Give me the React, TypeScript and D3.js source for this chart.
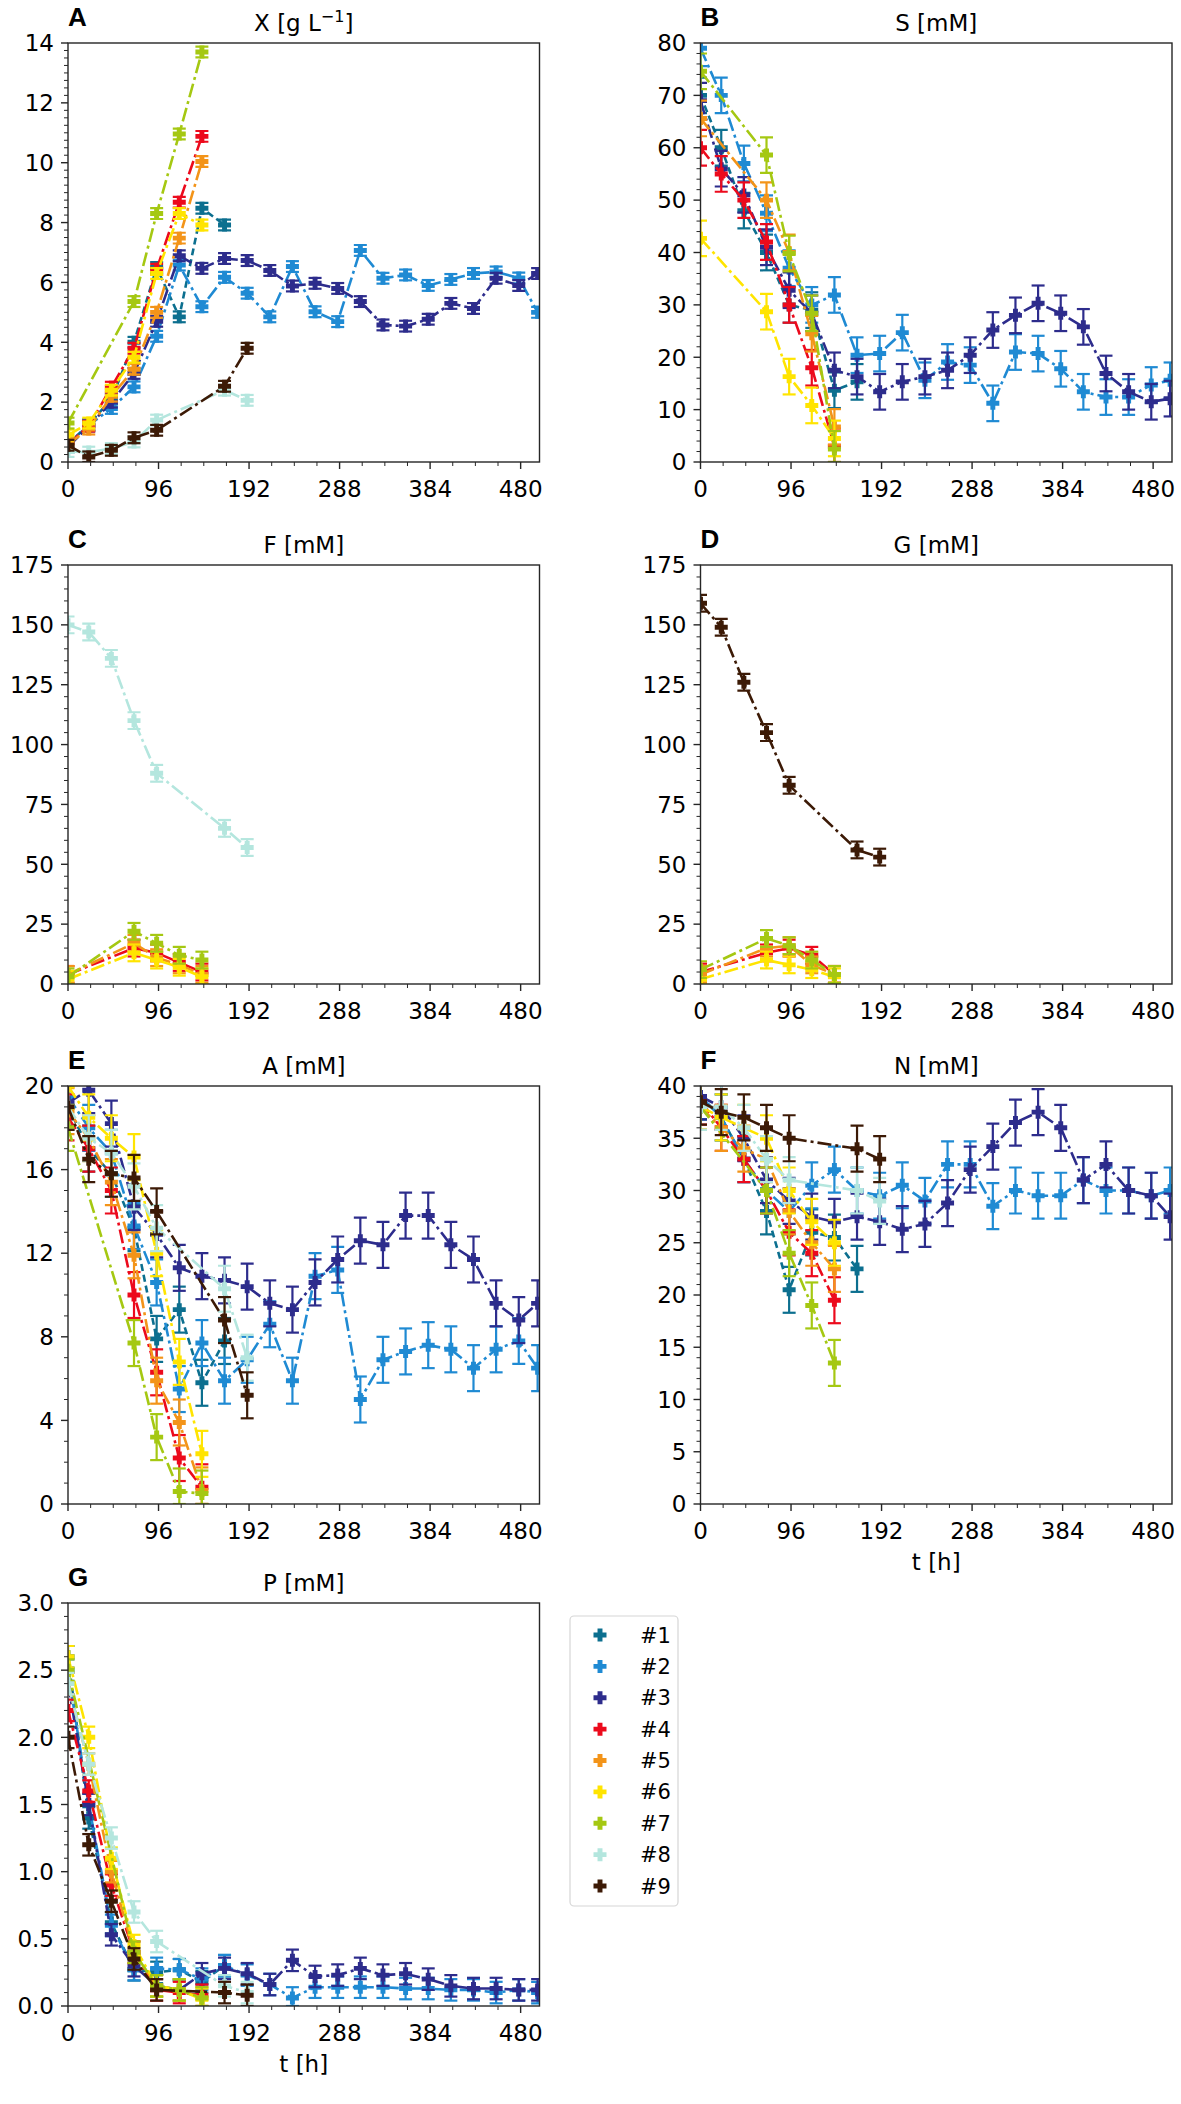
import * as d3 from "d3";

// sampling grid [h]
const T_ALL = [0, 22, 46, 70, 94, 118, 142, 166, 190, 214, 238, 262, 286, 310, 334, 358, 382, 406, 430, 454, 478, 498];
const T_SHORT = [0, 22, 46, 70, 94, 118, 142];
const T_S1 = [0, 22, 46, 70, 94, 118, 142, 166];
const T_S7 = [0, 70, 94, 118, 142];
const T_S89 = [0, 22, 46, 70, 94, 166, 190];

const SERIES = ["#1", "#2", "#3", "#4", "#5", "#6", "#7", "#8", "#9"];
const COLORS = ["#0c6f8f", "#1f8ad3", "#2d2c8c", "#ec0a1c", "#f39419", "#ffe400", "#a5c812", "#b4e6de", "#3c1a06"];
const TIMES = [T_S1, T_ALL, T_ALL, T_SHORT, T_SHORT, T_SHORT, T_S7, T_S89, T_S89];
const DASHES = ["7,4", "14,4,3,4", "14,4,3,4", "14,4,3,4", "14,4,3,4", "14,4,3,4", "14,4,3,4", "14,4,3,4", "14,4,3,4"];

type Row = (number | null)[] | null;

const X_DATA: Row[] = [
  [0.6, 1.25, 2.1, 4.0, 6.5, 4.85, 8.48, 7.92],
  [0.6, 1.23, 1.79, 2.51, 4.2, 6.58, 5.19, 6.17, 5.64, 4.85, 6.53, 5.02, 4.69, 7.07, 6.14, 6.25, 5.9, 6.1, 6.3, 6.35, 6.15, 5.0],
  [0.5, 1.2, 2.0, 2.96, 4.7, 6.89, 6.47, 6.8, 6.73, 6.4, 5.88, 5.97, 5.8, 5.36, 4.58, 4.54, 4.77, 5.3, 5.13, 6.14, 5.9, 6.3],
  [0.6, 1.2, 2.5, 3.8, 6.44, 8.68, 10.88],
  [0.6, 1.1, 2.2, 3.1, 5.0, 7.48, 10.04],
  [0.9, 1.3, 2.4, 3.5, 6.3, 8.3, 7.92],
  [1.3, 5.36, 8.3, 10.96, 13.7],
  [0.35, 0.33, 0.45, 0.67, 1.4, 2.4, 2.06],
  [0.56, 0.17, 0.39, 0.81, 1.06, 2.53, 3.8],
];

const S_DATA: Row[] = [
  [70, 60, 48, 40, 30, 29, 13.7, 15.3],
  [79, 70, 57, 47.5, 37, 30, 31.9, 20.4, 20.7, 24.7, 15.6, 19.1, 18.5, 11.2, 21, 20.7, 17.8, 13.4, 12.4, 12.4, 14.7, 15.6],
  [69, 56, 51, 41, 32.8, 28.4, 17.5, 16.3, 13.4, 15.3, 16.3, 17.5, 20.4, 25.2, 28, 30.3, 28.4, 25.8, 16.9, 13.4, 11.5, 12.1],
  [60, 55, 50, 42, 30, 18, 3],
  [65.6, null, null, 50, 40, 24.5, 6.7],
  [42.7, null, null, 28.7, 16.3, 10.8, 4.5],
  [74.6, 58.6, 39.8, 28.4, 2.5],
  null,
  null,
];

const F_DATA: Row[] = [
  null,
  null,
  null,
  [4, null, null, 15, 13, 9, 5],
  [4, null, null, 17, 11, 8, 4],
  [2, null, null, 13, 10, 7, 3],
  [3, 22, 17, 12, 10],
  [150, 147, 136, 110, 88, 65, 57],
  null,
];

const G_DATA: Row[] = [
  null,
  null,
  null,
  [5, null, null, 13, 15, 12, 4],
  [4, null, null, 15, 16, 8, 4],
  [2, null, null, 10, 8, 6, 3],
  [6, 19, 16, 10, 4],
  null,
  [159, 149, 126, 105, 83, 56, 53],
];

const A_DATA: Row[] = [
  [19, 17, 15.8, 13.2, 7.9, 9.3, 5.8, 7.8],
  [19.5, 18.0, 16.8, 13.3, 10.6, 5.5, 7.7, 5.9, 6.9, 8.6, 5.9, 10.9, 11.2, 5.0, 6.9, 7.3, 7.6, 7.4, 6.5, 7.4, 7.8, 6.5],
  [19.2, 19.8, 18.2, 14.2, 12.9, 11.3, 10.9, 10.7, 10.4, 9.6, 9.3, 10.6, 11.7, 12.6, 12.4, 13.8, 13.8, 12.4, 11.7, 9.6, 8.8, 9.6],
  [18.5, 17, 15, 10.0, 6.3, 2.2, 0.8],
  [18.8, 17.5, 15.4, 11.9, 5.9, 3.9, 0.65],
  [20, 18.5, 17.5, 16.6, 12.0, 6.8, 2.4],
  [18, 7.7, 3.2, 0.6, 0.5],
  [19, 17.5, 16.8, 15.2, 13.2, 10.3, 7.0],
  [19, 16.5, 15.8, 15.6, 14.0, 8.8, 5.2],
];

const N_DATA: Row[] = [
  [39, 37, 33, 28, 20.5, 26, 25.5, 22.5],
  [39, 37, 33, 30, 28, 30.5, 32, 30, 29.5, 30.5, 29, 32.5, 32.5, 28.5, 30, 29.5, 29.5, 31, 30, 30, 29.5, 30],
  [39, 38, 35, 31, 29, 27.5, 27, 27.5, 27, 26.3, 26.8, 28.8, 32, 34.2, 36.5, 37.5, 36, 31, 32.5, 30, 29.5, 27.5],
  [38.5, 36, 33, 30, 26, 24, 19.5],
  [38, 36, 34, 33, 28, 25, 22.5],
  [38, 37, 36, 35, 30, 27, 25],
  [38, 30, 24, 19, 13.5],
  [38, 38, 36, 33, 31, 30, 29],
  [38.5, 37.5, 37, 36, 35, 34, 33],
];

const P_DATA: Row[] = [
  [2.6, 1.4, 0.62, 0.27, 0.25, 0.27, 0.18, 0.3],
  [2.5, 1.5, 0.6, 0.27, 0.28, 0.27, 0.2, 0.3, 0.23, 0.16, 0.06, 0.14, 0.14, 0.14, 0.14, 0.13, 0.13, 0.12, 0.12, 0.1, 0.12, 0.1],
  [2.4, 1.5, 0.53, 0.3, 0.15, 0.12, 0.24, 0.28, 0.24, 0.16, 0.34, 0.22, 0.23, 0.28, 0.23, 0.24, 0.2, 0.15, 0.13, 0.13, 0.12, 0.12],
  [2.2, 1.6, 0.9, 0.4, 0.12, 0.1, 0.08],
  [2.4, 1.8, 1.0, 0.4, 0.15, 0.12, 0.06],
  [2.6, 2.0, 1.1, 0.45, 0.15, 0.12, 0.05],
  [2.5, 0.4, 0.15, 0.12, 0.06],
  [2.4, 1.8, 1.25, 0.7, 0.48, 0.15, 0.1],
  [2.0, 1.2, 0.78, 0.35, 0.12, 0.1, 0.08],
];

// half-width of the error bars per panel
const ERRORS = [0.18, 3.4, 3.5, 3.5, 1.1, 2.2, 0.08];

const X_TICKS = [0, 96, 192, 288, 384, 480];

// layout
const COL_X = [68, 700.5];
const PW = 471.5;
const ROW_Y = [43, 565, 1086, 1603];
const ROW_H = [419, 419, 418, 403];

interface PanelDef {
  letter: string; title: string; sup?: string; data: Row[]; err: number;
  yMax: number; major: number; minor: number; dec: number;
  col: number; row: number; xlabel: boolean;
}

const PANELS: PanelDef[] = [
  { letter: "A", title: "X [g L", sup: "−1", data: X_DATA, err: ERRORS[0], yMax: 14, major: 2, minor: 0.25, dec: 0, col: 0, row: 0, xlabel: false },
  { letter: "B", title: "S [mM]", data: S_DATA, err: ERRORS[1], yMax: 80, major: 10, minor: 2, dec: 0, col: 1, row: 0, xlabel: false },
  { letter: "C", title: "F [mM]", data: F_DATA, err: ERRORS[2], yMax: 175, major: 25, minor: 5, dec: 0, col: 0, row: 1, xlabel: false },
  { letter: "D", title: "G [mM]", data: G_DATA, err: ERRORS[3], yMax: 175, major: 25, minor: 5, dec: 0, col: 1, row: 1, xlabel: false },
  { letter: "E", title: "A [mM]", data: A_DATA, err: ERRORS[4], yMax: 20, major: 4, minor: 1, dec: 0, col: 0, row: 2, xlabel: false },
  { letter: "F", title: "N [mM]", data: N_DATA, err: ERRORS[5], yMax: 40, major: 5, minor: 1, dec: 0, col: 1, row: 2, xlabel: true },
  { letter: "G", title: "P [mM]", data: P_DATA, err: ERRORS[6], yMax: 3, major: 0.5, minor: 0.1, dec: 1, col: 0, row: 3, xlabel: true },
];

const FONT = "DejaVu Sans, sans-serif";
const AX = "#262626";

function plusPath(s: number) {
  const r = s / 2, a = s * 0.19;
  return `M${-a},${-r}H${a}V${-a}H${r}V${a}H${a}V${r}H${-a}V${a}H${-r}V${-a}H${-a}Z`;
}
const MARKER = plusPath(13);

function Panel({ p, idx }: { p: PanelDef; idx: number }) {
  const x0 = COL_X[p.col], y0 = ROW_Y[p.row], h = ROW_H[p.row];
  const xs = d3.scaleLinear().domain([0, 500]).range([x0, x0 + PW]);
  const ys = d3.scaleLinear().domain([0, p.yMax]).range([y0 + h, y0]);
  const nMaj = Math.round(p.yMax / p.major);
  const yMajors = d3.range(nMaj + 1).map(i => i * p.major);
  const nMin = Math.round(p.yMax / p.minor);
  const yMinors = d3.range(nMin + 1).map(i => i * p.minor)
    .filter(v => Math.abs(v / p.major - Math.round(v / p.major)) > 1e-6);
  const xMinors = d3.range(0, 501, 24).filter(v => v % 96 !== 0);
  const clipId = `clip${idx}`;
  const line = d3.line<[number, number]>().x(d => xs(d[0])).y(d => ys(d[1]));

  return (
    <g>
      <defs>
        <clipPath id={clipId}>
          <rect x={x0} y={y0} width={PW} height={h} />
        </clipPath>
      </defs>
      <text x={x0} y={y0 - 17} fontFamily="Liberation Sans, Arial, sans-serif" fontWeight="bold" fontSize={26}>{p.letter}</text>
      <text x={x0 + PW / 2} y={y0 - 12} textAnchor="middle" fontFamily={FONT} fontSize={23}>
        {p.title}
        {p.sup ? <tspan dy={-9} fontSize={16}>{p.sup}</tspan> : null}
        {p.sup ? <tspan dy={9}>]</tspan> : null}
      </text>

      <g clipPath={`url(#${clipId})`}>
        {p.data.map((vals, si) => {
          if (!vals) return null;
          const pts: [number, number][] = [];
          vals.forEach((v, i) => { if (v !== null) pts.push([TIMES[si][i], v]); });
          const c = COLORS[si];
          return (
            <g key={si}>
              <path d={line(pts) || ""} fill="none" stroke={c} strokeWidth={2.6} strokeDasharray={DASHES[si]} />
              {pts.map(([t, v], k) => {
                const cx = xs(t), lo = ys(Math.max(0, v - p.err)), hi = ys(v + p.err);
                return (
                  <g key={k}>
                    <line x1={cx} x2={cx} y1={lo} y2={hi} stroke={c} strokeWidth={2.2} />
                    <line x1={cx - 6.5} x2={cx + 6.5} y1={lo} y2={lo} stroke={c} strokeWidth={2.2} />
                    <line x1={cx - 6.5} x2={cx + 6.5} y1={hi} y2={hi} stroke={c} strokeWidth={2.2} />
                    <path d={MARKER} transform={`translate(${cx},${ys(v)})`} fill={c} />
                  </g>
                );
              })}
            </g>
          );
        })}
      </g>

      <rect x={x0} y={y0} width={PW} height={h} fill="none" stroke={AX} strokeWidth={1.4} />

      {yMajors.map(v => (
        <g key={`ym${v}`}>
          <line x1={x0 - 7} x2={x0} y1={ys(v)} y2={ys(v)} stroke={AX} strokeWidth={1.4} />
          <text x={x0 - 14} y={ys(v)} dy="0.36em" textAnchor="end" fontFamily={FONT} fontSize={23}>{v.toFixed(p.dec)}</text>
        </g>
      ))}
      {yMinors.map(v => (
        <line key={`yn${v}`} x1={x0 - 4} x2={x0} y1={ys(v)} y2={ys(v)} stroke={AX} strokeWidth={1} />
      ))}
      {X_TICKS.map(v => (
        <g key={`xm${v}`}>
          <line x1={xs(v)} x2={xs(v)} y1={y0 + h} y2={y0 + h + 7} stroke={AX} strokeWidth={1.4} />
          <text x={xs(v)} y={y0 + h + 35} textAnchor="middle" fontFamily={FONT} fontSize={23}>{v}</text>
        </g>
      ))}
      {xMinors.map(v => (
        <line key={`xn${v}`} x1={xs(v)} x2={xs(v)} y1={y0 + h} y2={y0 + h + 4} stroke={AX} strokeWidth={1} />
      ))}
      {p.xlabel ? (
        <text x={x0 + PW / 2} y={y0 + h + 66} textAnchor="middle" fontFamily={FONT} fontSize={23}>t [h]</text>
      ) : null}
    </g>
  );
}

function Legend() {
  const lx = 570, ly = 1616, lw = 108, lh = 290;
  const rowY = d3.scaleLinear().domain([0, 8]).range([ly + 19, ly + 270]);
  return (
    <g>
      <rect x={lx} y={ly} width={lw} height={lh} rx={4} fill="white" stroke="#d6d6d6" strokeWidth={1.2} />
      {SERIES.map((s, i) => (
        <g key={s}>
          <path d={MARKER} transform={`translate(600,${rowY(i)})`} fill={COLORS[i]} />
          <text x={640} y={rowY(i)} dy="0.36em" fontFamily={FONT} fontSize={21}>{s}</text>
        </g>
      ))}
    </g>
  );
}

export default function App() {
  return (
    <svg width={1181} height={2104} viewBox="0 0 1181 2104"
      style={{ position: "absolute", left: 0, top: 0, background: "white" }}>
      <rect width={1181} height={2104} fill="white" />
      {PANELS.map((p, i) => <Panel key={p.letter} p={p} idx={i} />)}
      <Legend />
    </svg>
  );
}
